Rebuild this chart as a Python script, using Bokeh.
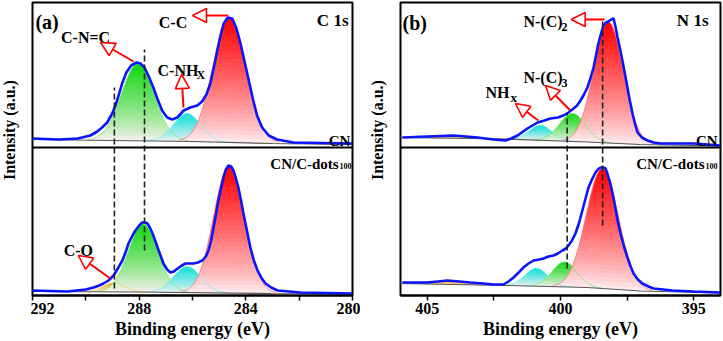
import numpy as np
from bokeh.plotting import figure
from bokeh.layouts import row
from bokeh.models import Range1d, FixedTicker, Span, Label, Arrow, NormalHead
from bokeh.core.properties import value
from bokeh.embed import file_html
from bokeh.resources import INLINE

FONT = "'Liberation Serif', 'Times New Roman', serif"

# ---------------- Panel (a): C 1s ----------------
a_ticks = [292, 288, 284, 280]
a_minor = [290, 286, 282]

# CN (upper spectrum): measured envelope
a_cn_E = [292.0, 291.0, 290.3, 289.83, 289.57, 289.39, 289.2, 289.01, 288.89, 288.76,
          288.64, 288.48, 288.30, 288.10, 287.95, 287.80, 287.64, 287.47, 287.32, 287.14,
          286.95, 286.76, 286.57, 286.33, 286.08, 285.82, 285.64, 285.48, 285.33, 285.20,
          285.07, 284.95, 284.83, 284.68, 284.51, 284.35, 284.20, 284.04, 283.89, 283.74,
          283.58, 283.39, 283.14, 282.83, 282.21, 280.0]
a_cn_I = [158, 157, 158, 161, 165, 169, 174, 183, 191, 202,
          213, 224, 231, 234, 233, 229, 220, 209, 198, 186,
          179, 177, 179, 186, 189, 191, 195, 202, 213, 229,
          246, 261, 273, 279, 278, 268, 253, 234, 216, 198,
          181, 169, 161, 157, 154, 153]
a_cn_bgE = [292, 286, 283, 280]
a_cn_bgI = [157, 155, 153, 152]
a_cn_center = [288.05, 286.20, 284.62]
a_cn_height = [77, 28, 125]
a_cn_fwhm = [1.45, 1.2, 1.45]
a_cn_color = ["#10d810", "#10e0d8", "#ff0000"]

# CN/C-dots100 (lower spectrum)
a_cd_E = [292.0, 290.69, 290.0, 289.71, 289.5, 289.34, 289.15, 288.96, 288.8, 288.63,
          288.5, 288.4, 288.25, 288.14, 288.0, 287.88, 287.78, 287.69, 287.6, 287.5,
          287.4, 287.31, 287.2, 287.09, 286.95, 286.83, 286.7, 286.56, 286.4, 286.26,
          286.1, 285.96, 285.8, 285.63, 285.5, 285.4, 285.3, 285.21, 285.12, 285.03,
          284.93, 284.84, 284.75, 284.65, 284.55, 284.46, 284.37, 284.28, 284.18, 284.09,
          283.96, 283.83, 283.7, 283.56, 283.4, 283.26, 283.05, 282.81, 281.95, 280.0]
a_cd_I = [6, 5, 7, 9, 11, 13, 16, 21, 28, 36,
          45, 53, 61, 66, 71, 74, 74, 73, 69, 63,
          56, 49, 41, 33, 27, 24, 25, 28, 31, 33,
          33, 33, 34, 36, 40, 46, 56, 69, 82, 96,
          108, 119, 127, 131, 130, 126, 118, 109, 96, 83,
          66, 49, 36, 26, 18, 13, 9, 6, 4, 3]
a_cd_bgE = [292, 288, 283, 280]
a_cd_bgI = [5, 4.5, 3, 2.5]
a_cd_center = [288.95, 287.85, 286.20, 284.63]
a_cd_height = [9, 68, 26, 127]
a_cd_fwhm = [0.95, 1.3, 1.2, 1.35]
a_cd_color = ["#f2a414", "#10d810", "#10e0d8", "#ff0000"]

a_ref_E = [288.93, 287.80]
a_ref_top = [209, 247]
a_ref_bot = [8, 46]

# ---------------- Panel (b): N 1s ----------------
b_ticks = [405, 400, 395]
b_minor = [402.5, 397.5]

b_cn_E = [405.93, 404.99, 404.01, 403.11, 402.51, 402.06, 401.85, 401.61, 401.4, 401.24,
          401.05, 400.86, 400.6, 400.38, 400.1, 399.89, 399.7, 399.51, 399.38, 399.25,
          399.12, 398.99, 398.88, 398.76, 398.67, 398.58, 398.48, 398.39, 398.3, 398.2,
          398.1, 398.01, 397.94, 397.86, 397.77, 397.68, 397.58, 397.49, 397.4, 397.3,
          397.2, 397.11, 396.95, 396.74, 396.5, 396.25, 395.01, 394.0]
b_cn_I = [159, 160, 161, 159, 157, 156, 158, 161, 165, 168,
          171, 174, 176, 178, 179, 181, 184, 188, 191, 196,
          202, 209, 218, 229, 241, 253, 263, 271, 274, 275,
          277, 278, 270, 259, 248, 236, 222, 209, 196, 183,
          172, 164, 159, 156, 154, 153, 153, 151]
b_cn_bgE = [406, 402, 399, 397, 394]
b_cn_bgI = [159, 157.5, 154.5, 152, 150.5]
b_cn_center = [404.1, 400.75, 399.55, 398.20]
b_cn_height = [3, 15, 28, 121]
b_cn_fwhm = [1.6, 1.0, 1.15, 1.3]
b_cn_color = ["#f2a414", "#10e0d8", "#10d810", "#ff0000"]

b_cd_E = [405.93, 404.99, 404.6, 404.24, 403.8, 403.38, 402.9, 402.51, 402.14, 401.95,
          401.76, 401.57, 401.39, 401.2, 401.01, 400.8, 400.64, 400.45, 400.26, 400.1,
          399.93, 399.8, 399.7, 399.57, 399.44, 399.31, 399.18, 399.06, 398.95, 398.82,
          398.69, 398.6, 398.5, 398.4, 398.31, 398.22, 398.13, 398.03, 397.94, 397.85,
          397.75, 397.62, 397.49, 397.37, 397.26, 397.1, 396.93, 396.7, 396.51, 395.8,
          395.01, 394.0]
b_cd_I = [14, 14, 15, 16, 15, 14, 13, 12, 12, 15,
          19, 24, 29, 33, 36, 37, 38, 40, 41, 43,
          46, 48, 51, 56, 63, 73, 86, 98, 109, 117,
          124, 127, 129, 129, 128, 121, 113, 101, 88, 75,
          63, 50, 39, 30, 23, 17, 13, 10, 8, 6,
          5, 4]
b_cd_bgE = [406, 402, 399, 397, 394]
b_cd_bgI = [13, 11, 9, 5.5, 3.5]
b_cd_center = [404.25, 400.90, 399.85, 398.43]
b_cd_height = [4, 18, 25, 120]
b_cd_fwhm = [1.6, 1.0, 1.1, 1.42]
b_cd_color = ["#f2a414", "#10e0d8", "#10d810", "#ff0000"]

b_ref_E = [399.75, 398.42]
b_ref_top = [183, 276]
b_ref_bot = [28, 71]

DIVIDER = 149
Y_TITLE = "Intensity (a.u.)"


def hex_rgb(h):
    h = h.lstrip("#")
    return tuple(int(h[i:i + 2], 16) for i in (0, 2, 4))


def mix(c1, c2, t):
    return "#%02x%02x%02x" % tuple(int(round(a + (b - a) * t)) for a, b in zip(c1, c2))


PALE = (255, 242, 246)


def outline_color(col):
    return mix(hex_rgb(col), (255, 255, 255), 0.45)


def draw_spectrum(p, lo, hi, env_E, env_I, bgE, bgI, centers, heights, fwhms, colors):
    grid = np.linspace(lo, hi, 600)
    bE = np.array(bgE[::-1], dtype=float)
    bI = np.array(bgI[::-1], dtype=float)
    base = np.interp(grid, bE, bI)
    curves = []
    N = 30
    for c, h, w, col in zip(centers, heights, fwhms, colors):
        s = w / 2.3548
        g = h * np.exp(-(grid - c) ** 2 / (2 * s * s))
        idx = np.where(g > 0.01 * h)[0]
        i0, i1 = max(idx[0] - 1, 0), min(idx[-1] + 2, len(grid))
        gx = grid[i0:i1]
        gg = g[i0:i1]
        gb = base[i0:i1]
        rgb = hex_rgb(col)
        for k in range(N):
            lo_k = h * k / N
            hi_k = h * (k + 1) / N
            m = np.where(gg > lo_k)[0]
            if len(m) == 0:
                continue
            j0, j1 = max(m[0] - 1, 0), min(m[-1] + 2, len(gx))
            y1 = gb[j0:j1] + np.minimum(gg[j0:j1], lo_k - (0.5 if k else 0))
            y2 = gb[j0:j1] + np.minimum(gg[j0:j1], hi_k)
            t = ((k + 0.5) / N) ** 0.8
            p.varea(x=gx[j0:j1], y1=y1, y2=y2, fill_color=mix(PALE, rgb, t), fill_alpha=1.0)
        curves.append((gx, gb + gg, col))
    for gx, gy, col in curves:
        p.line(gx, gy, line_color=outline_color(col), line_width=0.9)
    p.line(bE, bI, line_color="#555555", line_width=1.2)
    p.line(env_E, env_I, line_color="#0a14ff", line_width=2.6)


def title_fig(width, xc):
    # narrow strip holding the rotated y-axis title
    t = figure(width=width, height=341, x_range=Range1d(0, width), y_range=Range1d(0, 341),
               output_backend="svg", toolbar_location=None, x_axis_location=None,
               y_axis_location=None, min_border=0)
    t.min_border_left = 0
    t.min_border_right = 0
    t.min_border_top = 0
    t.min_border_bottom = 0
    t.grid.visible = False
    t.outline_line_color = None
    t.background_fill_color = "white"
    t.border_fill_color = "white"
    t.text(x=[xc], y=[341 - 148.5], text=[Y_TITLE], angle=np.pi / 2,
           text_font=value(FONT), text_font_style="bold", text_font_size="16px",
           text_align="center", text_baseline="middle", text_color="black")
    return t


def base_fig(xr, ticks, minor, width, right):
    p = figure(width=width, height=341, x_range=Range1d(*xr), y_range=Range1d(1, 294),
               output_backend="svg", toolbar_location=None, y_axis_location=None,
               min_border_left=2, min_border_right=right, min_border_top=2, min_border_bottom=46)
    p.grid.visible = False
    p.outline_line_color = "black"
    p.outline_line_width = 2
    p.background_fill_color = "white"
    p.border_fill_color = "white"
    xa = p.xaxis[0]
    xa.ticker = FixedTicker(ticks=ticks, minor_ticks=minor)
    xa.major_tick_in = 0
    xa.major_tick_out = 5
    xa.minor_tick_in = 0
    xa.minor_tick_out = 5
    xa.major_tick_line_width = 1.5
    xa.minor_tick_line_width = 1.5
    xa.axis_line_width = 2
    xa.major_label_text_font = FONT
    xa.major_label_text_font_style = "bold"
    xa.major_label_text_font_size = "16px"
    xa.major_label_text_color = "black"
    xa.major_label_standoff = 2
    xa.axis_label = "Binding energy (eV)"
    xa.axis_label_text_font = FONT
    xa.axis_label_text_font_style = "bold"
    xa.axis_label_text_font_size = "18px"
    xa.axis_label_text_color = "black"
    xa.axis_label_standoff = 2
    p.add_layout(Span(location=DIVIDER, dimension="width", line_color="black", line_width=2))
    return p


def lab(p, text, x, y, size="16px", align="left"):
    p.add_layout(Label(x=x, y=y, text=text, text_font=FONT, text_font_style="bold",
                       text_font_size=size, text_align=align, text_baseline="alphabetic",
                       text_color="black"))


def arrow(p, xs, ys, xe, ye):
    p.add_layout(Arrow(x_start=xs, y_start=ys, x_end=xe, y_end=ye, line_color="red", line_width=2,
                       end=NormalHead(size=14, fill_color="white", line_color="red", line_width=1.6)))


# ----- figure (a)
ta = title_fig(30, 9)
pa = base_fig((292, 280), a_ticks, a_minor, 330, 8)
draw_spectrum(pa, 292, 280, a_cn_E, a_cn_I, a_cn_bgE, a_cn_bgI,
              a_cn_center, a_cn_height, a_cn_fwhm, a_cn_color)
draw_spectrum(pa, 292, 280, a_cd_E, a_cd_I, a_cd_bgE, a_cd_bgI,
              a_cd_center, a_cd_height, a_cd_fwhm, a_cd_color)
pa.segment(x0=a_ref_E, y0=a_ref_bot, x1=a_ref_E, y1=a_ref_top, line_color="#222222",
           line_width=1.6, line_dash="6 3")
lab(pa, "(a)", 291.89, 275, "20px")
lab(pa, "C 1s", 280.15, 276, "17px", "right")
lab(pa, "C-N=C", 290.01, 259, "16px", "center")
lab(pa, "C-C", 286.73, 274, "16px", "center")
lab(pa, "C-NH", 287.31, 226, "16px")
lab(pa, "X", 285.85, 222, "12px")
lab(pa, "C-O", 290.28, 46, "16px", "center")
lab(pa, "CN", 280.08, 156, "15px", "right")
lab(pa, "CN/C-dots", 280.52, 133, "15px", "right")
lab(pa, "100", 280.49, 131, "8px")
arrow(pa, 284.66, 281, 286.0, 281)
arrow(pa, 288.21, 235, 289.45, 254)
arrow(pa, 286.34, 189, 286.41, 222)
arrow(pa, 289.08, 18, 290.28, 41)

# ----- figure (b)
tb = title_fig(38, 17)
pb = base_fig((406, 394), b_ticks, b_minor, 325, 3)
draw_spectrum(pb, 406, 394, b_cn_E, b_cn_I, b_cn_bgE, b_cn_bgI,
              b_cn_center, b_cn_height, b_cn_fwhm, b_cn_color)
draw_spectrum(pb, 406, 394, b_cd_E, b_cd_I, b_cd_bgE, b_cd_bgI,
              b_cd_center, b_cd_height, b_cd_fwhm, b_cd_color)
pb.segment(x0=b_ref_E, y0=b_ref_bot, x1=b_ref_E, y1=b_ref_top, line_color="#222222",
           line_width=1.6, line_dash="6 3")
lab(pb, "(b)", 405.925, 274, "20px")
lab(pb, "N 1s", 394.45, 276, "17px", "right")
lab(pb, "N-(C)", 401.39, 275, "16px")
lab(pb, "2", 399.96, 270, "12px")
lab(pb, "N-(C)", 401.39, 219, "16px")
lab(pb, "3", 399.96, 214, "12px")
lab(pb, "NH", 402.81, 204, "16px")
lab(pb, "x", 401.875, 199, "13px")
lab(pb, "CN", 394.11, 156, "15px", "right")
lab(pb, "CN/C-dots", 394.6, 133, "15px", "right")
lab(pb, "100", 394.56, 131, "8px")
arrow(pb, 398.35, 277, 399.6, 277)
arrow(pb, 399.63, 186, 400.56, 211)
arrow(pb, 400.83, 176, 401.69, 193)

layout = row(ta, pa, tb, pb)
open("out.html", "w").write(file_html(layout, INLINE))
